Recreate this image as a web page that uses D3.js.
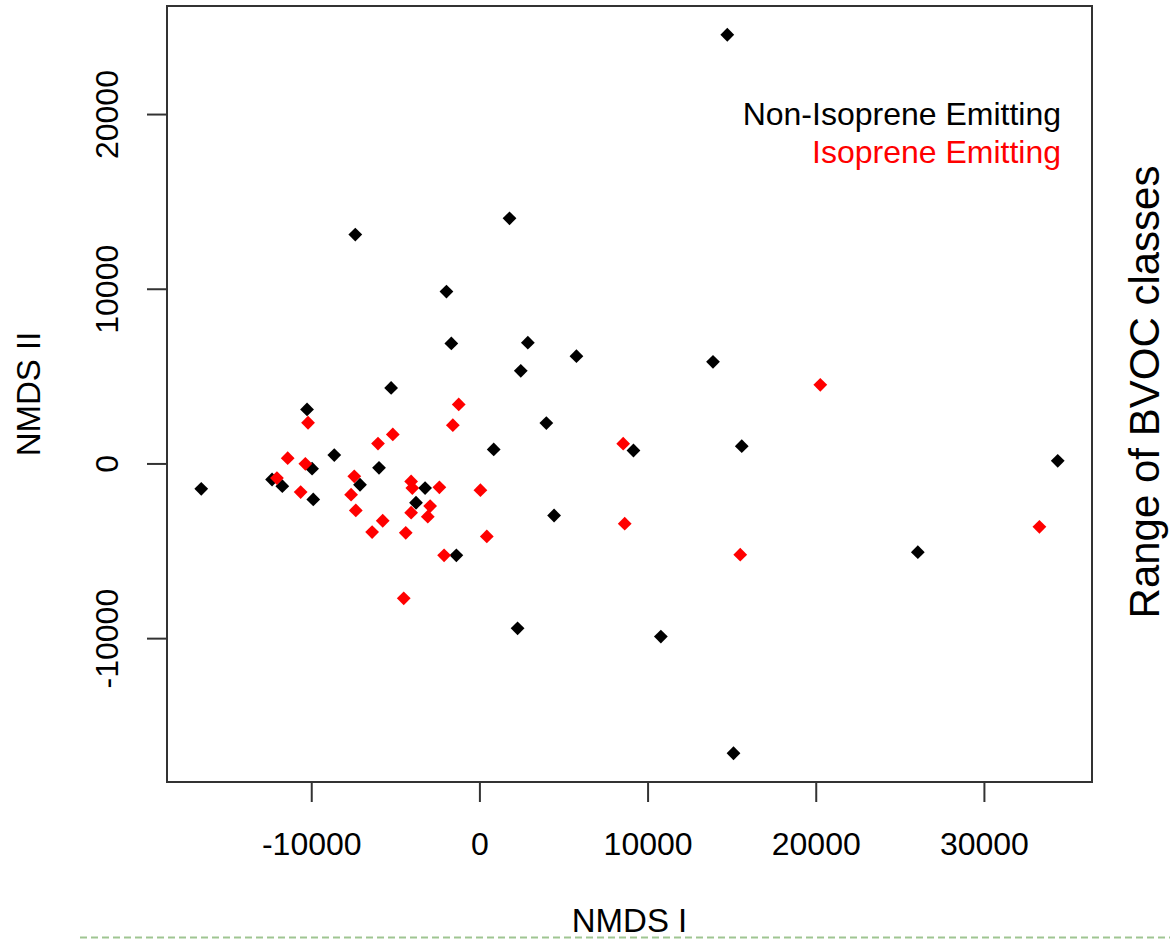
<!DOCTYPE html>
<html>
<head>
<meta charset="utf-8">
<script src="https://cdn.jsdelivr.net/npm/d3@7"></script>
<style>
  body { margin: 0; background: #fff; }
  text { font-family: "Liberation Sans", Arial, sans-serif; fill: #000; }
</style>
</head>
<body>
<div id="chart"></div>
<script>
// NMDS scores
var nonIsoX = [14740, 1790, -7380, -1960, -1670, 2880, 5770, 2460, 13890, -5250,
	-10250, -8630, -9950, 850, 3980, -5970, -12330, -11720, -16540, -9880,
	-7100, -3230, -3770, -1370, 9160, 15600, 34390, 4440, 26070, 2270,
	10790, 15110];
var nonIsoY = [24540, 14030, 13100, 9840, 6870, 6910, 6140, 5300, 5820, 4320,
	3090, 480, -300, 800, 2310, -250, -920, -1300, -1450, -2060,
	-1220, -1410, -2250, -5260, 740, 990, 150, -2980, -5080, -9440,
	-9910, -16590];

var isoX = [-1230, -1580, -5150, -6030, -10190, -11400, -10350, -12040, -10630, -7440,
	-7630, -7350, -5750, -6380, -4060, -3990, -2380, -2930, -4060, -3070,
	-4380, 60, 440, -2100, -4500, 8550, 8640, 15510, 20270, 33300];
var isoY = [3380, 2190, 1660, 1140, 2330, 300, -20, -840, -1640, -740,
	-1790, -2690, -3280, -3930, -1030, -1410, -1370, -2440, -2820, -3050,
	-3970, -1530, -4180, -5260, -7720, 1130, -3450, -5220, 4500, -3630];

var xTicks = [-10000, 0, 10000, 20000, 30000];
var yTicks = [-10000, 0, 10000, 20000];

var legendLabels = ["Non-Isoprene Emitting", "Isoprene Emitting"];
var legendColors = ["#000000", "#ff0000"];

function drawChart() {
	var W = 1170, H = 940;
	var margin = { left: 167, right: 78, top: 6, bottom: 158 };

	var svg = d3.select("#chart")
		.append("svg")
		.attr("width", W)
		.attr("height", H);

	var points = [];
	nonIsoX.forEach(function (v, i) {
		points.push({ x: v, y: nonIsoY[i], c: legendColors[0] });
	});
	isoX.forEach(function (v, i) {
		points.push({ x: v, y: isoY[i], c: legendColors[1] });
	});

	// R style: pad the data range by 4% on each side
	function padded(ext) {
		var d = (ext[1] - ext[0]) * 0.04;
		return [ext[0] - d, ext[1] + d];
	}

	var x = d3.scaleLinear()
		.domain(padded(d3.extent(points, function (d) { return d.x; })))
		.range([margin.left, W - margin.right]);

	var y = d3.scaleLinear()
		.domain(padded(d3.extent(points, function (d) { return d.y; })))
		.range([H - margin.bottom, margin.top]);

	// plain hyphen for negatives, like R prints them
	var fmt = function (d) { return String(d); };

	// x axis
	var gx = svg.append("g")
		.attr("transform", "translate(0," + (H - margin.bottom) + ")")
		.call(d3.axisBottom(x).tickValues(xTicks).tickSize(20).tickFormat(fmt));
	gx.select(".domain").remove();
	gx.selectAll(".tick line").attr("stroke", "#333").attr("stroke-width", 2);
	gx.selectAll(".tick text")
		.attr("y", 73)
		.attr("dy", null)
		.style("font-size", "32px")
		.style("font-family", "Liberation Sans, Arial, sans-serif")
		.attr("fill", "#000");

	// y axis, labels turned like R's default
	var gy = svg.append("g")
		.attr("transform", "translate(" + margin.left + ",0)")
		.call(d3.axisLeft(y).tickValues(yTicks).tickSize(20).tickFormat(fmt));
	gy.select(".domain").remove();
	gy.selectAll(".tick line").attr("stroke", "#333").attr("stroke-width", 2);
	gy.selectAll(".tick text")
		.attr("x", null)
		.attr("dy", null)
		.attr("text-anchor", "middle")
		.attr("transform", "translate(-49,0) rotate(-90)")
		.style("font-size", "32px")
		.style("font-family", "Liberation Sans, Arial, sans-serif")
		.attr("fill", "#000");

	// points (filled diamonds)
	svg.append("g")
		.selectAll("path")
		.data(points)
		.enter()
		.append("path")
		.attr("d", d3.symbol().type(d3.symbolSquare).size(95))
		.attr("transform", function (d) {
			return "translate(" + x(d.x) + "," + y(d.y) + ") rotate(45)";
		})
		.attr("fill", function (d) { return d.c; });

	// frame
	svg.append("rect")
		.attr("x", margin.left)
		.attr("y", margin.top)
		.attr("width", W - margin.left - margin.right)
		.attr("height", H - margin.top - margin.bottom)
		.attr("fill", "none")
		.attr("stroke", "#333")
		.attr("stroke-width", 2);

	// legend
	svg.append("g")
		.selectAll("text")
		.data(legendLabels)
		.enter()
		.append("text")
		.attr("x", 1061)
		.attr("y", function (d, i) { return 125 + i * 38; })
		.attr("text-anchor", "end")
		.style("font-size", "32px")
		.style("fill", function (d, i) { return legendColors[i]; })
		.text(function (d) { return d; });

	// axis titles
	svg.append("text")
		.attr("x", (margin.left + W - margin.right) / 2)
		.attr("y", 932)
		.attr("text-anchor", "middle")
		.style("font-size", "33px")
		.text("NMDS I");

	svg.append("text")
		.attr("transform", "translate(40," + (margin.top + H - margin.bottom) / 2 + ") rotate(-90)")
		.attr("text-anchor", "middle")
		.style("font-size", "33px")
		.text("NMDS II");

	svg.append("text")
		.attr("transform", "translate(1159,392) rotate(-90)")
		.attr("text-anchor", "middle")
		.style("font-size", "42px")
		.text("Range of BVOC classes");

	// dashed slide rule under the chart
	svg.append("line")
		.attr("x1", 80)
		.attr("x2", W)
		.attr("y1", 937.5)
		.attr("y2", 937.5)
		.attr("stroke", "#9fc592")
		.attr("stroke-width", 2)
		.attr("stroke-dasharray", "7,4");
}

drawChart();
</script>
</body>
</html>
